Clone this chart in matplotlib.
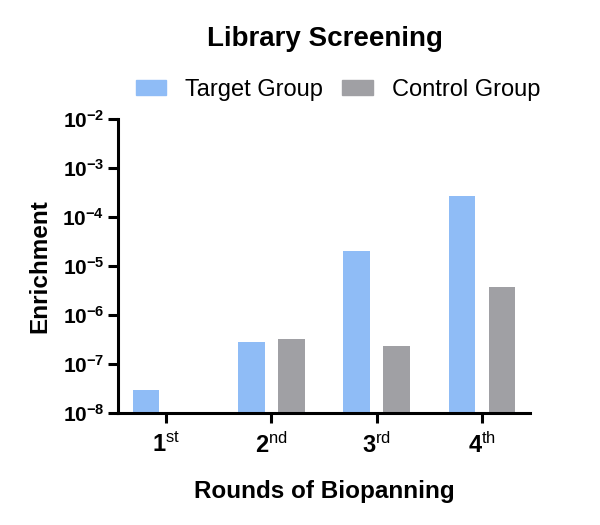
import numpy as np
import matplotlib
matplotlib.use("Agg")
import matplotlib.pyplot as plt
from matplotlib.patches import Patch

plt.rcParams['font.family'] = ['Liberation Sans', 'DejaVu Sans']
plt.rcParams['mathtext.fontset'] = 'custom'
plt.rcParams['mathtext.rm'] = 'Liberation Sans'
plt.rcParams['mathtext.bf'] = 'Liberation Sans:bold'
plt.rcParams['mathtext.it'] = 'Liberation Sans:italic'

# datos
rondas = ["1", "2", "3", "4"]
sufijos = ["st", "nd", "rd", "th"]
objetivo = [3.0e-8, 2.8e-7, 2.05e-5, 2.7e-4]
control = [np.nan, 3.2e-7, 2.4e-7, 3.8e-6]
exponentes = [-8, -7, -6, -5, -4, -3, -2]

azul = "#8fbcf6"
gris = "#a0a0a4"

fig = plt.figure(figsize=(6, 5.25), dpi=100)
ax = fig.add_axes([0.197, 0.213, 0.686, 0.56])

x = np.arange(len(rondas))
ancho = 0.25
ax.bar(x - 0.19, objetivo, ancho, color=azul)
ax.bar(x + 0.19, control, ancho, color=gris)

ax.set_yscale("log")
ax.set_ylim(1e-8, 1e-2)
ax.set_xlim(-0.457, 3.457)
ax.set_yticks([10.0 ** e for e in exponentes])
ax.set_yticklabels([r"$\mathbf{10^{%d}}$" % e for e in exponentes], fontsize=15)
ax.minorticks_off()
ax.set_xticks(x)
ax.set_xticklabels([r"$\mathbf{%s}^{\mathrm{%s}}$" % (r, s) for r, s in zip(rondas, sufijos)],
                   fontsize=17)

for lado in ["top", "right"]:
    ax.spines[lado].set_visible(False)
for lado in ["left", "bottom"]:
    ax.spines[lado].set_linewidth(2.2)
ax.tick_params(width=2.2, length=7, direction="out")
ax.tick_params(axis="x", pad=7)
ax.tick_params(axis="y", pad=3)

ax.set_xlabel("Rounds of Biopanning", fontsize=17.5, fontweight="bold", labelpad=16)
ax.set_ylabel("Enrichment", fontsize=17.5, fontweight="bold", labelpad=8)

fig.text(0.542, 0.926, "Library Screening", fontsize=20, fontweight="bold",
         ha="center", va="center")

handles = [Patch(color=azul, label="Target Group"), Patch(color=gris, label="Control Group")]
fig.legend(handles=handles, loc="center", bbox_to_anchor=(0.563, 0.829), ncol=2,
           frameon=False, fontsize=17, handlelength=1.3, handleheight=0.6,
           handletextpad=0.8, columnspacing=0.8)

fig.savefig("out.png", dpi=100)
